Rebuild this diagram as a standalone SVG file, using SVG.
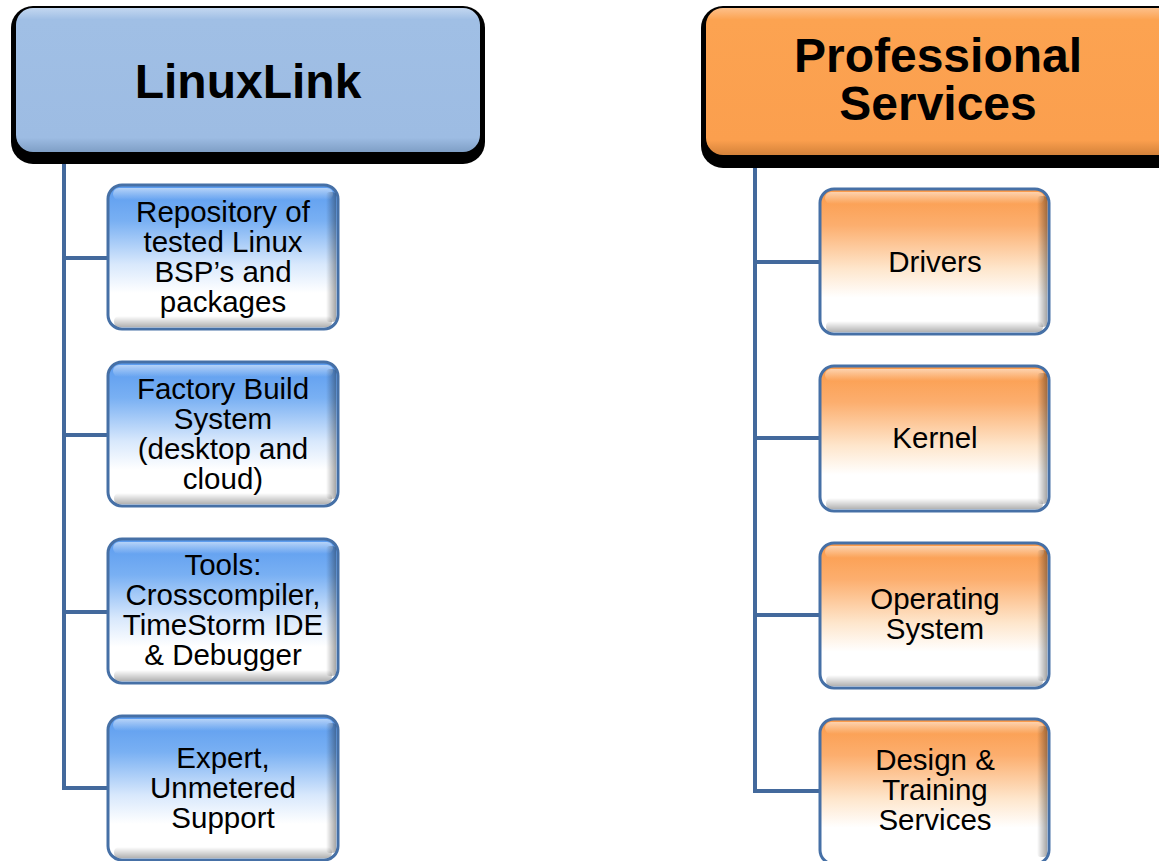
<svg xmlns="http://www.w3.org/2000/svg" width="1159" height="861" viewBox="0 0 1159 861">
<defs>
<linearGradient id="gBlue" x1="0" y1="0" x2="0" y2="1">
<stop offset="0" stop-color="#5a9bef"/>
<stop offset="0.25" stop-color="#79b0f3"/>
<stop offset="0.55" stop-color="#d8e8fc"/>
<stop offset="0.75" stop-color="#ffffff"/>
<stop offset="1" stop-color="#ffffff"/>
</linearGradient>
<linearGradient id="gOrange" x1="0" y1="0" x2="0" y2="1">
<stop offset="0" stop-color="#fb9a48"/>
<stop offset="0.25" stop-color="#fcae6e"/>
<stop offset="0.55" stop-color="#fee6cc"/>
<stop offset="0.75" stop-color="#ffffff"/>
<stop offset="1" stop-color="#ffffff"/>
</linearGradient>
<linearGradient id="gHiB" x1="0" y1="0" x2="0" y2="1">
<stop offset="0" stop-color="#ffffff" stop-opacity="0.55"/>
<stop offset="1" stop-color="#ffffff" stop-opacity="0"/>
</linearGradient>
<linearGradient id="gShadeR" x1="0" y1="0" x2="1" y2="0">
<stop offset="0" stop-color="#000" stop-opacity="0"/>
<stop offset="1" stop-color="#000" stop-opacity="0.35"/>
</linearGradient>
<linearGradient id="gShadeB" x1="0" y1="0" x2="0" y2="1">
<stop offset="0" stop-color="#000" stop-opacity="0"/>
<stop offset="1" stop-color="#000" stop-opacity="0.3"/>
</linearGradient>
<linearGradient id="gHeadB" x1="0" y1="0" x2="0" y2="1">
<stop offset="0" stop-color="#c3d7f0"/>
<stop offset="0.08" stop-color="#a0bfe5"/>
<stop offset="0.9" stop-color="#9dbce3"/>
<stop offset="1" stop-color="#7f9fc6"/>
</linearGradient>
<linearGradient id="gHeadO" x1="0" y1="0" x2="0" y2="1">
<stop offset="0" stop-color="#fdc08a"/>
<stop offset="0.08" stop-color="#fca351"/>
<stop offset="0.9" stop-color="#fb9f4e"/>
<stop offset="1" stop-color="#d4823a"/>
</linearGradient>
</defs>
<style>
.hdr-shadow { fill: #000000; }
.hdr-text { font-family: "Liberation Sans", Arial, sans-serif; font-weight: bold; font-size: 48px; fill: #000; text-anchor: middle; }
.box-text { font-family: "Liberation Sans", Arial, sans-serif; font-size: 29.5px; fill: #000; text-anchor: middle; }
.blue-box { fill: url(#gBlue); stroke: #4670a6; stroke-width: 3; }
.orange-box { fill: url(#gOrange); stroke: #4670a6; stroke-width: 3; }
.shade-r { fill: url(#gShadeR); }
.shade-b { fill: url(#gShadeB); }
.hi { fill: url(#gHiB); }
.conn { fill: none; stroke: #43699c; stroke-width: 4; }
</style>

<g id="connectors">
<path class="conn" d="M64 150 V788 H109"/>
<path class="conn" d="M64 258 H109 M64 435 H109 M64 612 H109"/>
<path class="conn" d="M755 152 V791 H821"/>
<path class="conn" d="M755 262 H821 M755 438 H821 M755 615 H821"/>
</g>

<g id="linuxlink">
<rect class="hdr-shadow" x="11" y="6" width="474" height="158" rx="22"/>
<rect x="16" y="8" width="464" height="144" rx="17" fill="url(#gHeadB)"/>
<text class="hdr-text" x="248" y="98">LinuxLink</text>
</g>

<g id="professional-services">
<rect class="hdr-shadow" x="701" y="6" width="480" height="162" rx="22"/>
<rect x="706" y="8" width="470" height="147" rx="17" fill="url(#gHeadO)"/>
<text class="hdr-text" x="938" y="72">Professional</text>
<text class="hdr-text" x="938" y="120">Services</text>
</g>

<g id="repository">
<rect class="blue-box" x="108" y="185" width="230" height="144" rx="14"/>
<rect class="hi" x="113" y="188" width="220" height="12" rx="6"/>
<rect class="shade-r" x="326" y="192" width="10" height="130" rx="4"/>
<rect class="shade-b" x="114" y="316" width="218" height="11" rx="5"/>
<text class="box-text" x="223" y="222">Repository of</text>
<text class="box-text" x="223" y="252">tested Linux</text>
<text class="box-text" x="223" y="282">BSP’s and</text>
<text class="box-text" x="223" y="312">packages</text>
</g>

<g id="factory">
<rect class="blue-box" x="108" y="362" width="230" height="144" rx="14"/>
<rect class="hi" x="113" y="365" width="220" height="12" rx="6"/>
<rect class="shade-r" x="326" y="369" width="10" height="130" rx="4"/>
<rect class="shade-b" x="114" y="493" width="218" height="11" rx="5"/>
<text class="box-text" x="223" y="399">Factory Build</text>
<text class="box-text" x="223" y="429">System</text>
<text class="box-text" x="223" y="459">(desktop and</text>
<text class="box-text" x="223" y="489">cloud)</text>
</g>

<g id="tools">
<rect class="blue-box" x="108" y="539" width="230" height="144" rx="14"/>
<rect class="hi" x="113" y="542" width="220" height="12" rx="6"/>
<rect class="shade-r" x="326" y="546" width="10" height="130" rx="4"/>
<rect class="shade-b" x="114" y="670" width="218" height="11" rx="5"/>
<text class="box-text" x="223" y="575">Tools:</text>
<text class="box-text" x="223" y="605">Crosscompiler,</text>
<text class="box-text" x="223" y="635">TimeStorm IDE</text>
<text class="box-text" x="223" y="665">&amp; Debugger</text>
</g>

<g id="support">
<rect class="blue-box" x="108" y="716" width="230" height="144" rx="14"/>
<rect class="hi" x="113" y="719" width="220" height="12" rx="6"/>
<rect class="shade-r" x="326" y="723" width="10" height="130" rx="4"/>
<rect class="shade-b" x="114" y="847" width="218" height="11" rx="5"/>
<text class="box-text" x="223" y="768">Expert,</text>
<text class="box-text" x="223" y="798">Unmetered</text>
<text class="box-text" x="223" y="828">Support</text>
</g>

<g id="drivers">
<rect class="orange-box" x="820" y="189" width="229" height="145" rx="14"/>
<rect class="hi" x="825" y="192" width="219" height="12" rx="6"/>
<rect class="shade-r" x="1037" y="196" width="10" height="131" rx="4"/>
<rect class="shade-b" x="826" y="321" width="217" height="11" rx="5"/>
<text class="box-text" x="935" y="272">Drivers</text>
</g>

<g id="kernel">
<rect class="orange-box" x="820" y="366" width="229" height="145" rx="14"/>
<rect class="hi" x="825" y="369" width="219" height="12" rx="6"/>
<rect class="shade-r" x="1037" y="373" width="10" height="131" rx="4"/>
<rect class="shade-b" x="826" y="498" width="217" height="11" rx="5"/>
<text class="box-text" x="935" y="448">Kernel</text>
</g>

<g id="operating-system">
<rect class="orange-box" x="820" y="543" width="229" height="145" rx="14"/>
<rect class="hi" x="825" y="546" width="219" height="12" rx="6"/>
<rect class="shade-r" x="1037" y="550" width="10" height="131" rx="4"/>
<rect class="shade-b" x="826" y="675" width="217" height="11" rx="5"/>
<text class="box-text" x="935" y="609">Operating</text>
<text class="box-text" x="935" y="639">System</text>
</g>

<g id="design-training">
<rect class="orange-box" x="820" y="719" width="229" height="145" rx="14"/>
<rect class="hi" x="825" y="722" width="219" height="12" rx="6"/>
<rect class="shade-r" x="1037" y="726" width="10" height="131" rx="4"/>
<text class="box-text" x="935" y="770">Design &amp;</text>
<text class="box-text" x="935" y="800">Training</text>
<text class="box-text" x="935" y="830">Services</text>
</g>
</svg>
